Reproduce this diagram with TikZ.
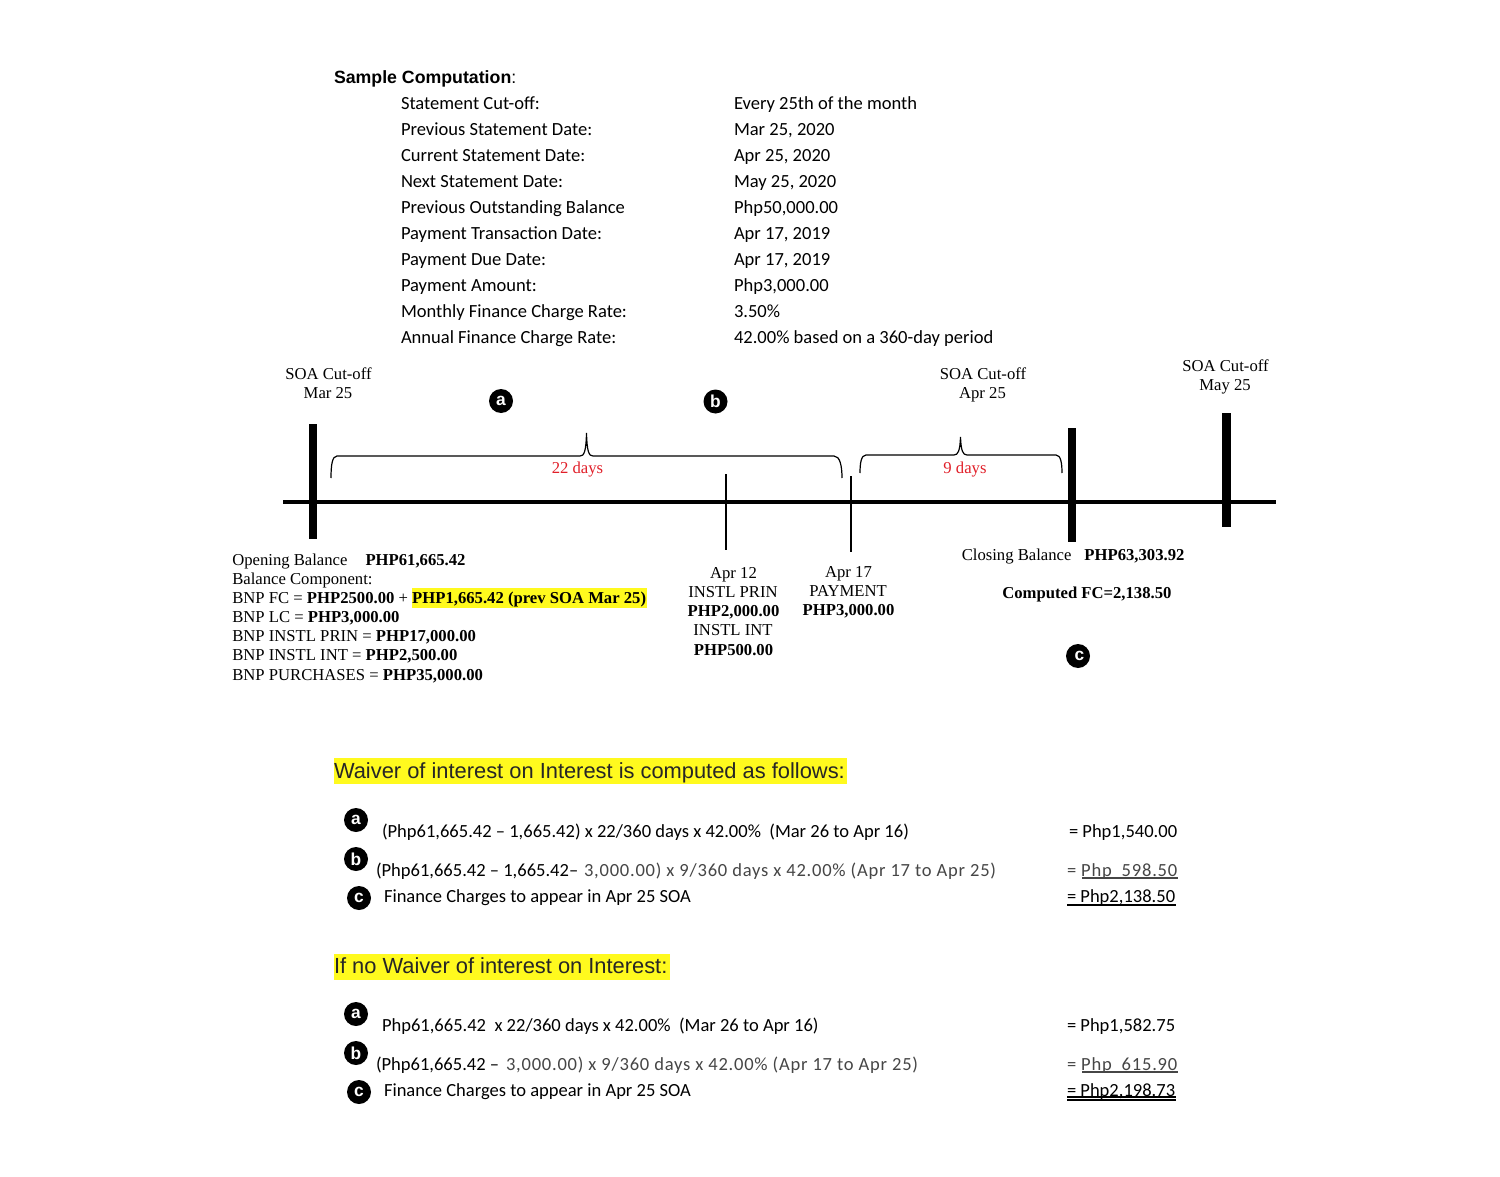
\documentclass[tikz,border=0pt]{standalone}
\usepackage{fontspec}
\setmainfont{Liberation Serif}
\newfontfamily\carl{Carlito}
\newfontfamily\carlw{Carlito}[LetterSpace=4.2]
\newfontfamily\arl{Liberation Sans}
\definecolor{hl}{RGB}{255,250,30}
\definecolor{redd}{RGB}{225,30,40}
\definecolor{grayt}{RGB}{70,70,70}
\newcommand{\Fs}[1]{\fontsize{#1}{#1}\selectfont}
\tikzset{
 x=0.75pt,y=-0.75pt,
 lbl/.style={inner sep=0pt,outer sep=0pt,anchor=base west},
 rowt/.style={lbl,font=\carl\Fs{13.9}},
 tm/.style={inner sep=0pt,anchor=base west,font=\Fs{12.5}},
 tmc/.style={inner sep=0pt,anchor=base,font=\Fs{12.5},align=center},
 cal/.style={lbl,font=\carl\Fs{13.9}},
 calg/.style={lbl,font=\carlw\Fs{13.9},text=grayt},
 head/.style={lbl,font=\arl\Fs{16.4},text=black!85},
 badge/.style={circle,fill=black,inner sep=0pt,minimum size=18pt,text=white,font=\arl\bfseries\Fs{13}},
 thick bar/.style={line width=6.5pt},
 thin bar/.style={line width=2pt},
 axis/.style={line width=2.6pt},
 brace/.style={line width=0.9pt},
 ul/.style={line width=1.2pt},
}
\begin{document}
\begin{tikzpicture}
\useasboundingbox (0,0) rectangle (1500,1177);
\fill[white] (0,0) rectangle (1500,1177);
% header table
\node[lbl,font=\arl\Fs{13.3}] (title) at (334,83.7) {\textbf{Sample Computation}:};
\foreach \n/\yy/\l/\r in {
 r1/109.4/{Statement Cut-off:}/{Every 25th of the month},
 r2/135.4/{Previous Statement Date:}/{Mar 25, 2020},
 r3/161.4/{Current Statement Date:}/{Apr 25, 2020},
 r4/187.4/{Next Statement Date:}/{May 25, 2020},
 r5/213.4/{Previous Outstanding Balance}/{Php50,000.00},
 r6/239.4/{Payment Transaction Date:}/{Apr 17, 2019},
 r7/265.4/{Payment Due Date:}/{Apr 17, 2019},
 r8/291.4/{Payment Amount:}/{Php3,000.00},
 r9/317.4/{Monthly Finance Charge Rate:}/{3.50\%},
 r10/343.4/{Annual Finance Charge Rate:}/{42.00\% based on a 360-day period}}
 {\node[rowt] (\n l) at (401,\yy) {\l}; \node[rowt] (\n r) at (734,\yy) {\r};}
% timeline
\coordinate (axL) at (283,502); \coordinate (axR) at (1276,502);
\draw[axis] (axL) -- (axR);
\coordinate (m1t) at (313,424); \coordinate (m1b) at (313,539);
\coordinate (m2t) at (1072,428); \coordinate (m2b) at (1072,542);
\coordinate (m3t) at (1226.5,413); \coordinate (m3b) at (1226.5,527);
\coordinate (a1t) at (726,474); \coordinate (a1b) at (726,550);
\coordinate (a2t) at (851,476); \coordinate (a2b) at (851,552);
\draw[thick bar] (m1t) -- (m1b);
\draw[thick bar] (m2t) -- (m2b);
\draw[thick bar] (m3t) -- (m3b);
\draw[thin bar] (a1t) -- (a1b);
\draw[thin bar] (a2t) -- (a2b);
% braces
\draw[brace] (331,478) .. controls (331,466) and (332,456) .. (337,456) -- (580,456) .. controls (584,456) and (586,452) .. (586.5,433) .. controls (587,452) and (589,456) .. (593,456) -- (834,456) .. controls (840,456) and (842,466) .. (842,478);
\draw[brace] (860,473) .. controls (860,464) and (861,455) .. (866,455) -- (954,455) .. controls (958,455) and (960,451) .. (960.5,437) .. controls (961,451) and (963,455) .. (967,455) -- (1056,455) .. controls (1061,455) and (1062,464) .. (1062,473);
\node[tmc,text=redd] (d22) at (577.5,473) {22 days};
\node[tmc,text=redd] (d9) at (965,473) {9 days};
% cut-off labels
\node[tmc] (c1a) at (328.5,379) {SOA Cut-off};
\node[tmc] (c1b) at (328,398) {Mar 25};
\node[tmc] (c2a) at (983,379) {SOA Cut-off};
\node[tmc] (c2b) at (982.5,398) {Apr 25};
\node[tmc] (c3a) at (1225.5,371) {SOA Cut-off};
\node[tmc] (c3b) at (1225,390) {May 25};
% badges
\node[badge] (ba) at (501,401) {a};
\node[badge] (bb) at (715.5,401.5) {\raisebox{-2pt}{b}};
\node[badge] (bc) at (1078,656) {\hspace{2pt}c};
% left block
\node[tm] (o1) at (232,565.4) {Opening Balance\hspace{1.08em}\textbf{PHP61,665.42}};
\node[tm] (o2) at (232,584.4) {Balance Component:};
\fill[hl] (411.5,587.5) rectangle (646.5,607.5);
\node[tm] (o3) at (232,603.4) {BNP FC = \textbf{PHP2500.00} + \textbf{PHP1,665.42 (prev SOA Mar 25)}};
\node[tm] (o4) at (232,622.4) {BNP LC = \textbf{PHP3,000.00}};
\node[tm] (o5) at (232,641.4) {BNP INSTL PRIN = \textbf{PHP17,000.00}};
\node[tm] (o6) at (232,660.4) {BNP INSTL INT = \textbf{PHP2,500.00}};
\node[tm] (o7) at (232,680.4) {BNP PURCHASES = \textbf{PHP35,000.00}};
% Apr 12
\node[tmc] (p1) at (733.5,578.4) {Apr 12};
\node[tmc] (p2) at (733,597.5) {INSTL PRIN};
\node[tmc] (p3) at (733.5,616.5) {\textbf{PHP2,000.00}};
\node[tmc] (p4) at (733,635.5) {INSTL INT};
\node[tmc] (p5) at (733.5,655.5) {\textbf{PHP500.00}};
% Apr 17
\node[tmc] (q1) at (848.5,577.4) {Apr 17};
\node[tmc] (q2) at (848,596.5) {PAYMENT};
\node[tmc] (q3) at (848.5,615.5) {\textbf{PHP3,000.00}};
% closing
\node[tm] (cl) at (961.5,560.5) {Closing Balance\hspace{0.78em}\textbf{PHP63,303.92}};
\node[tm] (fc) at (1002,598.5) {\textbf{Computed FC=2,138.50}};
% Section 1
\fill[hl] (334,758) rectangle (847,784);
\node[head] (h1) at (334,778.8) {Waiver of interest on Interest is computed as follows:};
\node[badge] (a1) at (356,820) {a};
\node[cal] (a1t) at (382,837.3) {(Php61,665.42 – 1,665.42) x 22/360 days x 42.00\%\ \ (Mar 26 to Apr 16)};
\node[cal] (a1r) at (1069,837.3) {= Php1,540.00};
\node[badge] (b1) at (356,859) {b};
\node[cal] (b1k) at (376,876.3) {(Php61,665.42 – 1,665.42–};
\node[calg] (b1t) at (584,876.3) {3,000.00) x 9/360 days x 42.00\% (Apr 17 to Apr 25)};
\node[calg] (b1r) at (1067,876.3) {= Php\ \ 598.50};
\draw[ul,grayt] (1082,878) -- (1178,878);
\node[badge] (c1) at (359,898) {c};
\node[cal] (c1t) at (384,902.3) {Finance Charges to appear in Apr 25 SOA};
\node[cal] (c1r) at (1067,902.3) {= Php2,138.50};
\draw[line width=2pt] (1067,905) -- (1176,905);
% Section 2
\fill[hl] (334,954) rectangle (670,980);
\node[head] (h2) at (334,973.8) {If no Waiver of interest on Interest:};
\node[badge] (a2) at (356,1014) {a};
\node[cal] (a2t) at (382,1031.3) {Php61,665.42\ \ x 22/360 days x 42.00\%\ \ (Mar 26 to Apr 16)};
\node[cal] (a2r) at (1067,1031.3) {= Php1,582.75};
\node[badge] (b2) at (356,1053) {b};
\node[cal] (b2k) at (376,1070.3) {(Php61,665.42 –};
\node[calg] (b2t) at (506,1070.3) {3,000.00) x 9/360 days x 42.00\% (Apr 17 to Apr 25)};
\node[calg] (b2r) at (1067,1070.3) {= Php\ \ 615.90};
\draw[ul,grayt] (1082,1072) -- (1178,1072);
\node[badge] (c2) at (359,1092) {c};
\node[cal] (c2t) at (384,1096.3) {Finance Charges to appear in Apr 25 SOA};
\node[cal] (c2r) at (1067,1096.3) {= Php2,198.73};
\draw[ul] (1067,1097) -- (1176,1097);
\draw[ul] (1067,1100) -- (1176,1100);
\end{tikzpicture}
\end{document}
